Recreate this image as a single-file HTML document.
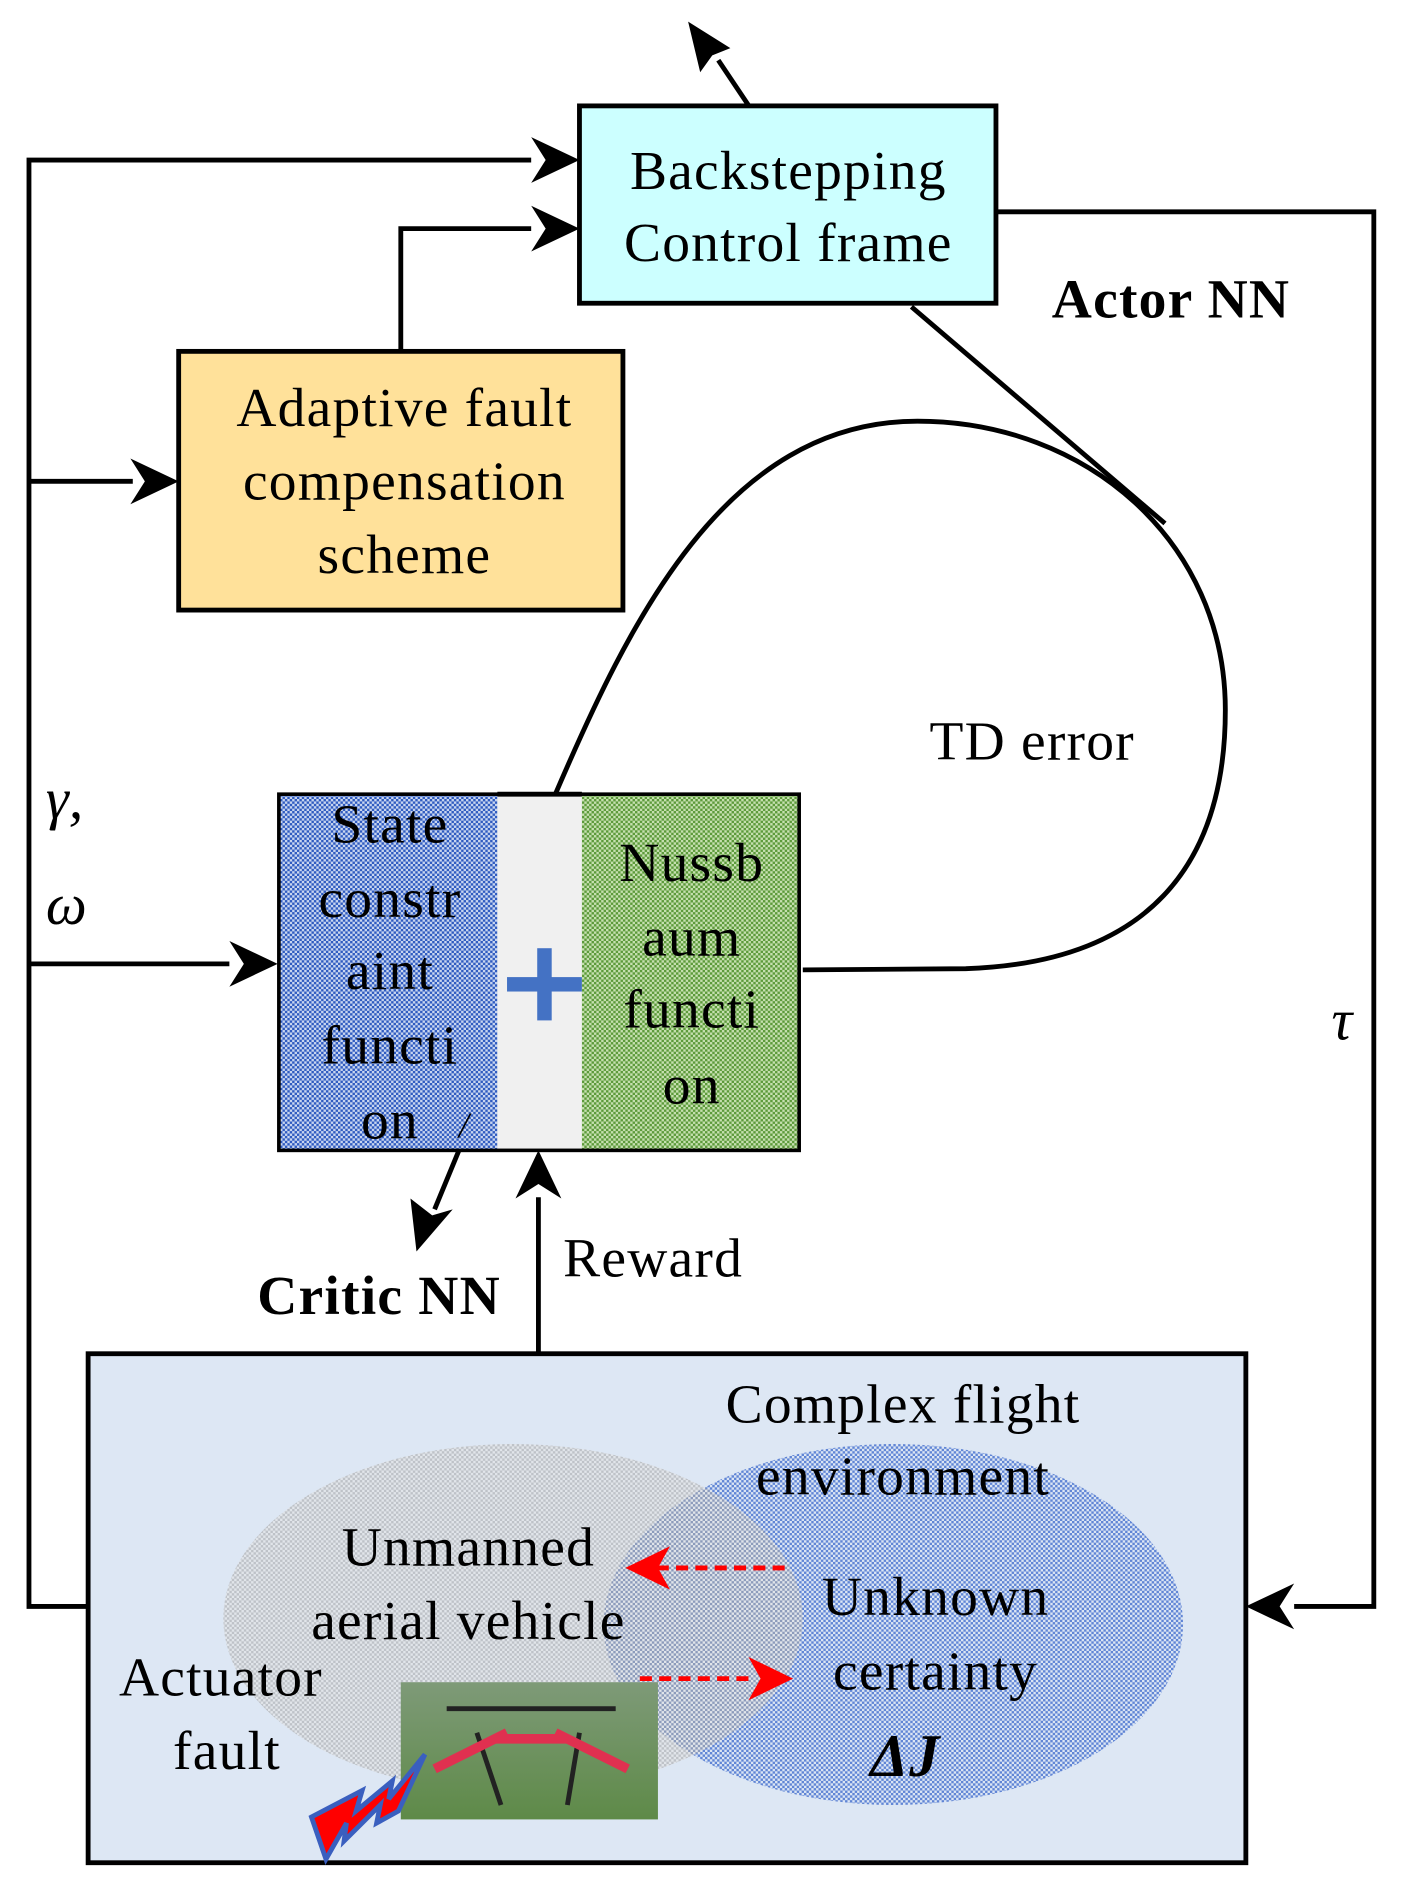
<!DOCTYPE html>
<html><head><meta charset="utf-8"><style>html,body{margin:0;padding:0;background:#fff}svg{display:block}</style></head><body>
<svg width="1404" height="1888" viewBox="0 0 1163 1569" preserveAspectRatio="none" xmlns="http://www.w3.org/2000/svg" font-family="Liberation Serif, serif">
<defs>
<pattern id="pb" width="4" height="4" patternUnits="userSpaceOnUse"><rect width="4" height="4" fill="#c9d6f0"/><rect width="2" height="2" fill="#2f5bc0"/><rect x="2" y="2" width="2" height="2" fill="#2f5bc0"/></pattern>
<pattern id="pg" width="4" height="4" patternUnits="userSpaceOnUse"><rect width="4" height="4" fill="#c6e0b0"/><rect width="2" height="2" fill="#5c9a3a"/><rect x="2" y="2" width="2" height="2" fill="#5c9a3a"/></pattern>
<pattern id="pe" width="4" height="4" patternUnits="userSpaceOnUse"><rect width="4" height="4" fill="#e4e4e4"/><rect width="2" height="2" fill="#aaaaaa"/><rect x="2" y="2" width="2" height="2" fill="#aaaaaa"/></pattern>
<pattern id="pe2" width="4" height="4" patternUnits="userSpaceOnUse"><rect width="4" height="4" fill="#dce6f4"/><rect width="2" height="2" fill="#4a74d0"/><rect x="2" y="2" width="2" height="2" fill="#4a74d0"/></pattern>
<linearGradient id="gr" x1="0" y1="0" x2="0" y2="1"><stop offset="0" stop-color="#7e9a78"/><stop offset="1" stop-color="#5e8a48"/></linearGradient>
</defs>
<g stroke="#000" stroke-width="4" fill="none">
<polyline points="73,1335 24,1335 24,133 440,133"/>
<polygon points="480,133 440,114 452,133 440,152" fill="#000" stroke="none"/>
<polyline points="332,292 332,190 440,190"/>
<polygon points="480,190 440,171 452,190 440,209" fill="#000" stroke="none"/>
<line x1="24" y1="400" x2="110" y2="400"/>
<polygon points="148,400 108,381 120,400 108,419" fill="#000" stroke="none"/>
<line x1="24" y1="801" x2="190" y2="801"/>
<polygon points="230,801 190,782 202,801 190,820" fill="#000" stroke="none"/>
<polyline points="825,176 1138,176 1138,1335 1072,1335"/>
<polygon points="1032,1335 1072,1316 1060,1335 1072,1354" fill="#000" stroke="none"/>
<line x1="446" y1="1125" x2="446" y2="995"/>
<polygon points="446,956 427,996 446,984 465,996" fill="#000" stroke="none"/>
<line x1="395" y1="920" x2="360" y2="1005"/>
<polygon points="345,1040 340,996 358,1010 375,1005" fill="#000" stroke="none"/>
<line x1="637" y1="113" x2="595" y2="50"/>
<polygon points="570,18 605,40 590,46 580,60" fill="#000" stroke="none"/>
<line x1="755" y1="255" x2="965" y2="435"/>
<path d="M460,660 C520,520 600,350 760,350 C900,350 1015,450 1015,590 C1015,720 950,800 800,805 L665,806"/>
</g>
<rect x="480" y="88" width="345" height="164" fill="#ccffff" stroke="#000" stroke-width="4"/>
<rect x="148" y="292" width="368" height="215" fill="#ffe19a" stroke="#000" stroke-width="4"/>
<rect x="231" y="660" width="181" height="296" fill="url(#pb)"/>
<rect x="412" y="660" width="70" height="296" fill="#f0f0f0"/>
<rect x="482" y="660" width="180" height="296" fill="url(#pg)"/>
<rect x="231" y="660" width="431" height="296" fill="none" stroke="#000" stroke-width="3"/>
<line x1="412" y1="660" x2="482" y2="660" stroke="#000" stroke-width="4"/>
<rect x="420" y="812" width="62" height="12" fill="#4472c4"/>
<rect x="445" y="788" width="12" height="60" fill="#4472c4"/>
<rect x="73" y="1125" width="959" height="423" fill="#dde7f4" stroke="#000" stroke-width="4"/>
<ellipse cx="740" cy="1350" rx="240" ry="150" fill="url(#pe2)" opacity="0.85"/>
<ellipse cx="425" cy="1345" rx="240" ry="145" fill="url(#pe)" opacity="0.6"/>
<rect x="332" y="1398" width="213" height="114" fill="url(#gr)"/>
<g stroke="#222" stroke-width="4" fill="none"><line x1="370" y1="1420" x2="510" y2="1420"/><line x1="395" y1="1440" x2="415" y2="1500"/><line x1="480" y1="1440" x2="470" y2="1500"/></g>
<g stroke="#e03050" stroke-width="8" fill="none"><line x1="360" y1="1470" x2="420" y2="1440"/><line x1="460" y1="1440" x2="520" y2="1470"/><line x1="410" y1="1445" x2="470" y2="1445"/></g>
<polygon points="258,1510 300,1488 295,1505 325,1480 322,1495 352,1458 330,1505 312,1515 315,1500 285,1530 287,1515 270,1545" fill="#ff0000" stroke="#3a5fbf" stroke-width="4"/>
<g stroke="#ff0000" stroke-width="4" stroke-dasharray="10,6"><line x1="650" y1="1303" x2="545" y2="1303"/><line x1="530" y1="1395" x2="625" y2="1395"/></g>
<polygon points="518,1303 555,1285 545,1303 555,1321" fill="#ff0000"/>
<polygon points="657,1395 620,1377 630,1395 620,1413" fill="#ff0000"/>
<g font-size="46" text-anchor="middle" fill="#000" letter-spacing="1">
<text x="653" y="157">Backstepping</text>
<text x="653" y="217">Control frame</text>
<text x="335" y="354">Adaptive fault</text>
<text x="335" y="415">compensation</text>
<text x="335" y="476">scheme</text>
<text x="855" y="631">TD error</text>
<text x="323" y="700">State</text>
<text x="323" y="762">constr</text>
<text x="323" y="822">aint</text>
<text x="323" y="884">functi</text>
<text x="323" y="946">on</text>
<text x="573" y="732">Nussb</text>
<text x="573" y="794">aum</text>
<text x="573" y="854">functi</text>
<text x="573" y="917">on</text>
<text x="541" y="1061">Reward</text>
<text x="748" y="1182">Complex flight</text>
<text x="748" y="1242">environment</text>
<text x="388" y="1301">Unmanned</text>
<text x="388" y="1362">aerial vehicle</text>
<text x="775" y="1342">Unknown</text>
<text x="775" y="1404">certainty</text>
<text x="183" y="1409">Actuator</text>
<text x="188" y="1470">fault</text>
<text x="970" y="264" font-weight="bold">Actor NN</text>
<text x="314" y="1092" font-weight="bold">Critic NN</text>
<text x="750" y="1476" font-style="italic" font-weight="bold" font-size="50">ΔJ</text>
</g>
<g font-size="48" font-style="italic" fill="#000">
<text x="38" y="680">γ,</text>
<text x="38" y="768">ω</text>
<text x="1103" y="864">τ</text>
<text x="380" y="945" font-size="30">/</text>
</g>
</svg>
</body></html>
